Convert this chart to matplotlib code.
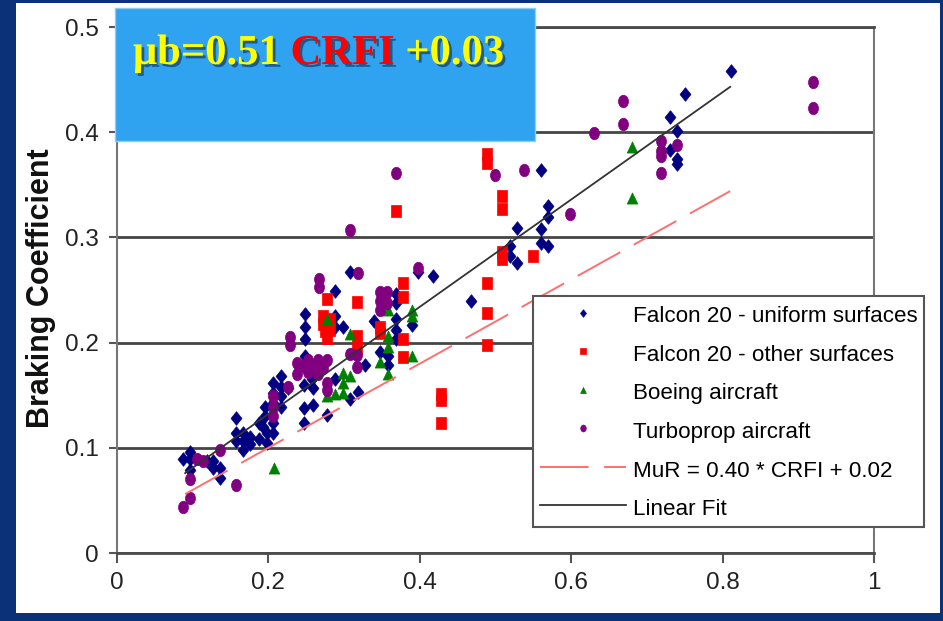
import numpy as np
import matplotlib
matplotlib.use("Agg")
import matplotlib.pyplot as plt
import matplotlib.patheffects as pe
from matplotlib.patches import Rectangle
from matplotlib.path import Path
from matplotlib.transforms import Affine2D

plt.rcParams['font.family'] = ['Liberation Sans', 'DejaVu Sans']

# --- data ---
uniform_x = [0.087, 0.097, 0.097, 0.097, 0.119, 0.127, 0.127, 0.136, 0.136, 0.157,
             0.157, 0.167, 0.157, 0.167, 0.167, 0.176, 0.176, 0.187, 0.187, 0.196,
             0.196, 0.198, 0.198, 0.193, 0.206, 0.206, 0.206, 0.206, 0.206, 0.216,
             0.216, 0.216, 0.216, 0.226, 0.247, 0.247, 0.247, 0.259, 0.259, 0.258,
             0.249, 0.249, 0.249, 0.249, 0.277, 0.288, 0.288, 0.288, 0.288, 0.298,
             0.308, 0.308, 0.318, 0.328, 0.339, 0.348, 0.358, 0.358, 0.368, 0.368,
             0.368, 0.368, 0.368, 0.390, 0.398, 0.418, 0.468, 0.519, 0.519, 0.529,
             0.529, 0.560, 0.560, 0.560, 0.569, 0.569, 0.569, 0.730, 0.740, 0.730,
             0.740, 0.740, 0.750, 0.811]
uniform_y = [0.089, 0.096, 0.089, 0.079, 0.087, 0.087, 0.081, 0.081, 0.071, 0.128,
             0.114, 0.114, 0.106, 0.106, 0.098, 0.110, 0.104, 0.124, 0.108, 0.139,
             0.130, 0.114, 0.105, 0.120, 0.124, 0.114, 0.162, 0.152, 0.143, 0.168,
             0.158, 0.149, 0.139, 0.157, 0.160, 0.138, 0.124, 0.157, 0.141, 0.165,
             0.227, 0.215, 0.203, 0.187, 0.131, 0.249, 0.225, 0.215, 0.165, 0.215,
             0.267, 0.146, 0.153, 0.179, 0.221, 0.191, 0.187, 0.179, 0.246, 0.238,
             0.222, 0.212, 0.203, 0.217, 0.267, 0.263, 0.240, 0.292, 0.282, 0.309,
             0.276, 0.364, 0.308, 0.295, 0.330, 0.319, 0.292, 0.414, 0.401, 0.383,
             0.375, 0.370, 0.436, 0.458]

other_x = [0.277, 0.272, 0.272, 0.275, 0.277, 0.282, 0.282, 0.317, 0.317, 0.317,
           0.348, 0.348, 0.368, 0.378, 0.378, 0.378, 0.378, 0.428, 0.428, 0.428,
           0.489, 0.489, 0.489, 0.489, 0.489, 0.508, 0.508, 0.508, 0.508, 0.549]
other_y = [0.241, 0.225, 0.218, 0.211, 0.204, 0.222, 0.212, 0.239, 0.206, 0.195,
           0.215, 0.209, 0.325, 0.257, 0.243, 0.203, 0.186, 0.151, 0.145, 0.124,
           0.379, 0.371, 0.257, 0.228, 0.198, 0.339, 0.327, 0.286, 0.279, 0.282]

boeing_x = [0.208, 0.277, 0.288, 0.299, 0.277, 0.298, 0.308, 0.298, 0.308, 0.348,
            0.358, 0.358, 0.358, 0.358, 0.390, 0.390, 0.390, 0.680, 0.680]
boeing_y = [0.081, 0.222, 0.151, 0.152, 0.149, 0.171, 0.168, 0.162, 0.208, 0.182,
            0.231, 0.206, 0.196, 0.170, 0.231, 0.225, 0.187, 0.386, 0.337]

turbo_x = [0.087, 0.097, 0.097, 0.106, 0.114, 0.136, 0.157, 0.206, 0.206, 0.206,
           0.226, 0.228, 0.228, 0.238, 0.238, 0.245, 0.252, 0.252, 0.259, 0.266,
           0.266, 0.272, 0.277, 0.277, 0.277, 0.267, 0.267, 0.308, 0.308, 0.317,
           0.317, 0.318, 0.348, 0.357, 0.348, 0.357, 0.348, 0.368, 0.398, 0.499,
           0.538, 0.599, 0.630, 0.669, 0.669, 0.719, 0.719, 0.719, 0.740, 0.719,
           0.920, 0.920]
turbo_y = [0.044, 0.052, 0.070, 0.089, 0.087, 0.098, 0.065, 0.149, 0.139, 0.130,
           0.158, 0.205, 0.198, 0.181, 0.170, 0.178, 0.183, 0.172, 0.178, 0.183,
           0.170, 0.176, 0.183, 0.162, 0.155, 0.260, 0.253, 0.189, 0.307, 0.188,
           0.177, 0.266, 0.248, 0.248, 0.240, 0.238, 0.231, 0.361, 0.271, 0.359,
           0.364, 0.322, 0.399, 0.430, 0.408, 0.392, 0.382, 0.377, 0.388, 0.361,
           0.448, 0.423]

# MuR = 0.40 * CRFI + 0.02 and linear fit 0.51 * CRFI + 0.03
mur_coef = (0.40, 0.02)
mur_range = (0.09, 0.81)
fit_coef = (0.51, 0.03)
fit_range = (0.09, 0.81)

x_ticks = [0, 0.2, 0.4, 0.6, 0.8, 1]
x_labels = ['0', '0.2', '0.4', '0.6', '0.8', '1']
y_ticks = [0, 0.1, 0.2, 0.3, 0.4, 0.5]
y_labels = ['0', '0.1', '0.2', '0.3', '0.4', '0.5']

labels = ['Falcon 20 - uniform surfaces', 'Falcon 20 - other surfaces',
          'Boeing aircraft', 'Turboprop aircraft',
          'MuR = 0.40 * CRFI + 0.02', 'Linear Fit']

# equation text pieces (yellow / red / yellow)
eq_parts = ['μb=0.51 ', 'CRFI', ' +0.03']
eq_colors = ['#ffff00', '#ff0000', '#ffff00']

# slightly tall markers (the original image is stretched vertically)
diamond = Path([(0, 1), (0.8, 0), (0, -1), (-0.8, 0), (0, 1)],
               [1, 2, 2, 2, 79])
square = Path([(-0.85, -1), (0.85, -1), (0.85, 1), (-0.85, 1), (-0.85, -1)],
              [1, 2, 2, 2, 79])
triangle = Path([(0, 1), (0.95, -1), (-0.95, -1), (0, 1)], [1, 2, 2, 79])
ellipse = Path.unit_circle().transformed(Affine2D().scale(0.8, 1.0))

W, H = 943, 621
fig = plt.figure(figsize=(W / 100, H / 100), dpi=100)
fig.patch.set_facecolor('#0b3279')
fig.add_artist(Rectangle((16 / W, 1 - 613 / H), (940 - 16) / W, (613 - 3) / H,
                         transform=fig.transFigure, fc='white', ec='none', zorder=-1))

ax = fig.add_axes([117 / W, 1 - 553 / H, (874 - 117) / W, (553 - 27) / H])
ax.set_xlim(0, 1)
ax.set_ylim(0, 0.5)

ax.plot(uniform_x, uniform_y, ls='none', marker=diamond, ms=9.8, mfc='#000080',
        mec='#000080', mew=0.5, zorder=3, label=labels[0])
ax.plot(other_x, other_y, ls='none', marker=square, ms=8, mfc='#ff0000',
        mec='#ff0000', mew=0.5, zorder=3, label=labels[1])
ax.plot(boeing_x, boeing_y, ls='none', marker=triangle, ms=8, mfc='#008000',
        mec='#008000', mew=0.5, zorder=3, label=labels[2])
ax.plot(turbo_x, turbo_y, ls='none', marker=ellipse, ms=9, mfc='#800080',
        mec='#800080', mew=0.5, zorder=3, label=labels[3])

xm = np.array(mur_range)
ax.plot(xm, mur_coef[0] * xm + mur_coef[1], color='#ff6f6f', lw=1.4,
        dashes=(25, 8), zorder=4, label=labels[4])
xf = np.array(fit_range)
ax.plot(xf, fit_coef[0] * xf + fit_coef[1], color='#333333', lw=1.3,
        zorder=4, label=labels[5])

ax.set_xticks(x_ticks)
ax.set_xticklabels(x_labels)
ax.set_yticks(y_ticks)
ax.set_yticklabels(y_labels)
ax.tick_params(axis='x', length=7, width=1.5, color='#555555', pad=7,
               labelsize=17.5, labelcolor='#222222')
ax.tick_params(axis='y', length=6, width=1.5, color='#555555', pad=7,
               labelsize=17.5, labelcolor='#222222')
ax.yaxis.grid(True, color='#454545', lw=2)
ax.set_axisbelow(True)
for side in ['left', 'right']:
    ax.spines[side].set_color('#777777')
    ax.spines[side].set_linewidth(1.5)
for side in ['top', 'bottom']:
    ax.spines[side].set_color('#4a4a4a')
    ax.spines[side].set_linewidth(2)

ax.set_ylabel('Braking Coefficient', fontsize=22, fontweight='bold', color='#111111')
ax.yaxis.label.set_va('center')
ax.yaxis.set_label_coords(-0.101, 0.504)

leg = ax.legend(loc='upper left', bbox_to_anchor=(533 / W, 1 - 296 / H),
                bbox_transform=fig.transFigure, borderaxespad=0, fontsize=16.1,
                frameon=True, fancybox=False, edgecolor='#555555',
                framealpha=1, handlelength=3.85, handletextpad=0.32,
                handleheight=1.3, labelspacing=0.62, borderpad=0.3,
                markerscale=0.55)
leg.get_frame().set_linewidth(1.5)
leg.set_zorder(10)

# equation box on top of everything
fig.add_artist(Rectangle((115 / W, 1 - 141 / H), (535 - 115) / W, (141 - 8) / H,
                         transform=fig.transFigure, fc='#2fa3ef', ec='#8ccdf8',
                         lw=1, zorder=5))
shadow = [pe.withSimplePatchShadow(offset=(2, -2), shadow_rgbFace='#1a3a60', alpha=0.7)]
renderer = fig.canvas.get_renderer()
x_px = 133
for part, col in zip(eq_parts, eq_colors):
    t = fig.text(x_px / W, 1 - 64 / H, part, color=col, va='baseline', ha='left',
                 fontsize=30.7, fontweight='bold',
                 family=['Liberation Serif', 'DejaVu Serif'],
                 zorder=6, path_effects=shadow)
    x_px = t.get_window_extent(renderer).x1

fig.savefig('out.png', dpi=100, facecolor=fig.get_facecolor())
